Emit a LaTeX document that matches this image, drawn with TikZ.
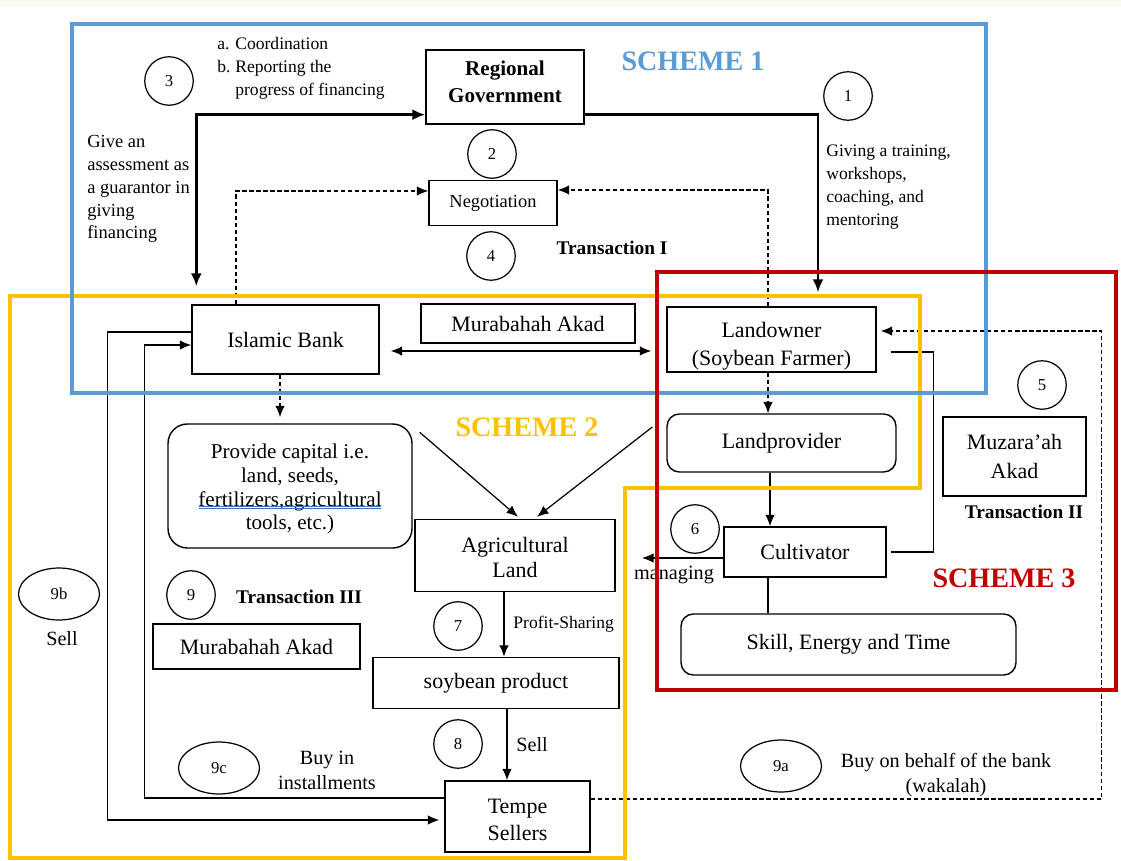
\documentclass[tikz,border=0pt]{standalone}
\usepackage{fontspec}
\setmainfont{Liberation Serif}
\usetikzlibrary{calc}
\usetikzlibrary{arrows.meta}
\usetikzlibrary{shapes.geometric}
\definecolor{schemeblue}{RGB}{91,155,213}
\definecolor{schemeyellow}{RGB}{255,192,0}
\definecolor{schemered}{RGB}{192,0,0}
\definecolor{topband}{RGB}{251,251,243}
\definecolor{spellblue}{RGB}{68,114,196}
\tikzstyle{box} = [draw, line width=0.8pt, align=center, inner sep=1pt, font=\fontsize{12.5}{15}\selectfont]
\tikzstyle{rbox} = [box, rounded corners=7pt]
\tikzstyle{num} = [draw, circle, line width=0.7pt, minimum size=0.97cm, inner sep=0pt, font=\fontsize{9.5}{10}\selectfont]
\tikzstyle{oval} = [draw, ellipse, line width=0.7pt, minimum width=1.62cm, minimum height=1.04cm, inner sep=0pt, font=\fontsize{9.5}{10}\selectfont]
\tikzstyle{note} = [align=left, inner sep=0pt, font=\fontsize{10}{13}\selectfont]
\tikzstyle{lbl} = [align=center, inner sep=0pt, font=\fontsize{11.5}{14.2}\selectfont]
\tikzstyle{trans} = [inner sep=0pt, font=\fontsize{11}{13}\selectfont\bfseries]
\tikzstyle{scheme} = [inner sep=0pt, font=\fontsize{16}{18}\selectfont\bfseries]
\tikzstyle{frame} = [line width=2.3pt]
\tikzstyle{link} = [line width=0.7pt]
\tikzstyle{arrow} = [line width=0.7pt, ->, >={Latex[length=2.3mm,width=1.9mm]}]
\tikzstyle{bigarrow} = [line width=1.6pt, ->, >={Latex[length=2.6mm,width=2.2mm]}]
\tikzstyle{dasharrow} = [arrow, dash pattern=on 2.5pt off 1.5pt]

\begin{document}
\begin{tikzpicture}[x=0.02cm, y=-0.02cm]
\useasboundingbox (0,0) rectangle (1121,861);
\fill [topband] (0,0) rectangle (1121,7);

\node [box, minimum width=3.16cm, minimum height=1.48cm, font=\fontsize{12}{15}\selectfont\bfseries] (RG) at (505,87) {Regional\\Government\rule[-6pt]{0pt}{6pt}};
\node [box, minimum width=2.56cm, minimum height=0.9cm, font=\fontsize{10.5}{12}\selectfont] (NEG) at (493,203) {Negotiation};
\node [box, minimum width=3.74cm, minimum height=1.38cm] (IB) at (285.5,339.5) {Islamic Bank};
\node [box, minimum width=4.28cm, minimum height=0.78cm] (MA1) at (528,323.5) {Murabahah Akad};
\node [box, minimum width=4.18cm, minimum height=1.3cm, font=\fontsize{12.5}{16}\selectfont] (LO) at (771.5,339.5) {\rule{0pt}{16pt}Landowner\\(Soybean Farmer)};
\node [rbox, rounded corners=11pt, minimum width=4.88cm, minimum height=2.48cm, font=\fontsize{12}{13.4}\selectfont] (PC) at (290,486) {\rule{0pt}{12pt}Provide capital i.e.\\land, seeds,\\fertilizers,agricultural\\tools, etc.)};
\node [rbox, minimum width=4.58cm, minimum height=1.16cm] (LP) at (781.5,443) {Landprovider};
\node [box, minimum width=2.86cm, minimum height=1.58cm, font=\fontsize{12.5}{16}\selectfont] (MZ) at (1014.5,456.5) {Muzara’ah\\Akad};
\node [box, minimum width=4cm, minimum height=1.44cm, font=\fontsize{12.5}{14}\selectfont] (AL) at (515,555.5) {\rule{0pt}{11pt}Agricultural\\Land};
\node [box, minimum width=3.24cm, minimum height=1cm] (CU) at (805,552) {Cultivator};
\node [rbox, minimum width=6.7cm, minimum height=1.22cm] (SK) at (848.5,644.5) {Skill, Energy and Time};
\node [box, minimum width=4.14cm, minimum height=0.9cm] (MA2) at (256.5,646.5) {Murabahah Akad};
\node [box, minimum width=4.92cm, minimum height=1.02cm] (SP) at (496,683) {soybean product};
\node [box, minimum width=2.9cm, minimum height=1.42cm, font=\fontsize{12.5}{15}\selectfont] (TS) at (517.5,816.5) {\rule{0pt}{12pt}Tempe\\Sellers};

\node [num] (n1) at (848,96) {1};
\node [num] (n2) at (492,154) {2};
\node [num] (n3) at (169,81) {3};
\node [num] (n4) at (491,256) {4};
\node [num] (n5) at (1042,385) {5};
\node [num] (n6) at (695,529) {6};
\node [num] (n7) at (458,626) {7};
\node [num] (n8) at (458,744) {8};
\node [num] (n9) at (191,595) {9};
\node [oval] (n9a) at (781,766) {9a};
\node [oval] (n9b) at (59,594) {9b};
\node [oval] (n9c) at (219,768) {9c};

\node [note, anchor=north west] (coordtxt) at (217,37) {\makebox[0.36cm][l]{a.}Coordination\\\makebox[0.36cm][l]{b.}Reporting the\\\hspace*{0.36cm}progress of financing};
\node [note, anchor=north west, font=\fontsize{10.5}{13}\selectfont] (guartxt) at (87,135) {Give an\\assessment as\\a guarantor in\\giving\\financing};
\node [note, anchor=north west] (traintxt) at (826,145) {Giving a training,\\workshops,\\coaching, and\\mentoring};
\node [trans] (t1) at (612,248) {Transaction I};
\node [trans] (t2) at (1024,512) {Transaction II};
\node [trans] (t3) at (299,597) {Transaction III};
\node [lbl] (mngtxt) at (674,575) {managing};
\node [lbl] (sell9b) at (62,639) {Sell};
\node [lbl] (buytxt) at (327,770) {Buy in\\installments};
\node [lbl] (waktxt) at (946,775) {Buy on behalf of the bank\\(wakalah)};

\draw [spellblue, line width=0.5pt] ($(PC.center)+(-91,20)$) -- ($(PC.center)+(91,20)$);
\draw [spellblue, line width=0.5pt] ($(PC.center)+(-91,22.5)$) -- ($(PC.center)+(91,22.5)$);

\coordinate (mngend) at (642,558);

\draw [bigarrow, <->, shorten <=0.36cm] ($(IB.north west)+(5,0)$) |- ($(RG.south west)+(0,-10)$);
\draw [bigarrow, shorten >=0.28cm] ($(RG.south east)+(0,-10)$) -| ($(LO.north)+(46.5,0)$);
\draw [dasharrow] ($(IB.north)+(-49.5,0)$) |- ($(NEG.west)+(0,-12)$);
\draw [dasharrow] ($(LO.north)+(-3.5,0)$) |- ($(NEG.east)+(0,-13)$);
\draw [arrow, <->, shorten <=0.22cm, shorten >=0.3cm] ($(IB.east)+(0,11.5)$) -- ($(LO.west)+(0,11.5)$);
\draw [dasharrow, shorten >=0.12cm] ($(IB.south)+(-5.5,0)$) -- ($(IB.south |- PC.north)+(-5.5,0)$);
\draw [dasharrow] ($(LO.south)+(-3.5,0)$) -- ($(LO.south |- LP.north)+(-3.5,0)$);
\draw [arrow] ($(LP.south)+(-11.5,0)$) -- ($(LP.south |- CU.north)+(-11.5,0)$);
\draw [link] ($(LO.east)+(14,12.5)$) -- ++(43,0) |- ($(CU.east)+(4,0)$);
\draw [dasharrow, shorten >=0.08cm] ($(TS.east)+(0,-17.5)$) -- ++(511,0) |- ($(LO.east)+(0,-8.5)$);
\draw [arrow] ($(CU.west)+(0,6)$) -- (mngend);
\draw [link] ($(CU.south)+(-37,0)$) -- ($(CU.south |- SK.north)+(-37,0)$);
\draw [arrow] ($(PC.north east)+(7,9)$) -- ($(AL.north)+(3,-2)$);
\draw [arrow] ($(LP.west)+(-14,-16)$) -- ($(AL.north)+(22,-2)$);
\draw [arrow] ($(AL.south)+(-11,0)$) -- node [right, inner sep=5pt, font=\fontsize{10}{12}\selectfont] (pstxt) {Profit-Sharing} ($(AL.south |- SP.north)+(-11,0)$);
\draw [arrow] ($(SP.south)+(11,0)$) -- node [right, inner sep=5pt, font=\fontsize{11.5}{14}\selectfont] (selltxt) {Sell} ($(SP.south |- TS.north)+(11,0)$);
\draw [arrow] ($(TS.west)+(0,-18.5)$) -- ++(-300,0) |- ($(IB.west)+(0,5.5)$);
\draw [arrow, shorten >=0.1cm] ($(IB.west)+(0,-7.5)$) -- ++(-84,0) |- ($(TS.west)+(0,3.5)$);

\draw [frame, schemeyellow] (10,296) -- (920,296) -- (920,488) -- (625,488) -- (625,858) -- (10,858) -- cycle;
\draw [frame, schemeblue] (72,24) rectangle (986,393);
\draw [frame, schemered] (657,272) rectangle (1116,690);

\node [scheme, text=schemeblue] (s1) at (693,61) {SCHEME 1};
\node [scheme, text=schemeyellow] (s2) at (527,427) {SCHEME 2};
\node [scheme, text=schemered] (s3) at (1004,578) {SCHEME 3};

\end{tikzpicture}
\end{document}
